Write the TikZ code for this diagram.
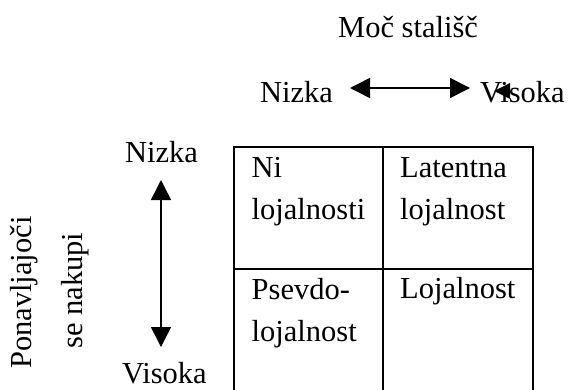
\documentclass[tikz,border=0pt]{standalone}
\usepackage{fontspec}
\setmainfont{Liberation Serif}
\usetikzlibrary{arrows.meta}
\tikzset{
  lbl/.style={inner sep=0pt, anchor=base west, font=\fontsize{30.5}{42}\selectfont},
  cell/.style={lbl, align=left},
  dbl/.style={line width=1.5pt, {Triangle[length=20pt,width=20pt]}-{Triangle[length=20pt,width=20pt]}},
  grid/.style={line width=2pt}
}
\begin{document}
\begin{tikzpicture}[x=1pt,y=-1pt]
\useasboundingbox (0,0) rectangle (572,390);
% top axis
\node[lbl] (title) at (338,38) {Moč stališč};
\node[lbl] (hlow) at (260,103) {Nizka};
\node[lbl] (hhigh) at (480,103) {Visoka};
\coordinate (hl) at (350,88);
\coordinate (hr) at (470,88);
\draw[dbl] (hl) -- (hr);
\fill (494,91) -- (510,83) -- (510,99) -- cycle;
% left axis
\node[lbl] (vlow) at (125,162) {Nizka};
\node[lbl] (vhigh) at (122,383) {Visoka};
\coordinate (vt) at (161,180);
\coordinate (vb) at (161,347);
\draw[dbl] (vt) -- (vb);
\node[lbl, rotate=90] (ylab1) at (31,369) {Ponavljajoči};
\node[lbl, rotate=90] (ylab2) at (82,349) {se nakupi};
% table
\draw[grid] (234,395) -- (234,147) -- (533,147) -- (533,395);
\draw[grid] (383,147) -- (383,395);
\draw[grid] (234,269) -- (533,269);
\node[cell] (c11) at (251.5,219) {Ni\\lojalnosti};
\node[cell] (c12) at (400,219) {Latentna\\lojalnost};
\node[cell] (c21) at (251.5,341) {Psevdo-\\lojalnost};
\node[lbl] (c22) at (400,298) {Lojalnost};
\end{tikzpicture}
\end{document}
